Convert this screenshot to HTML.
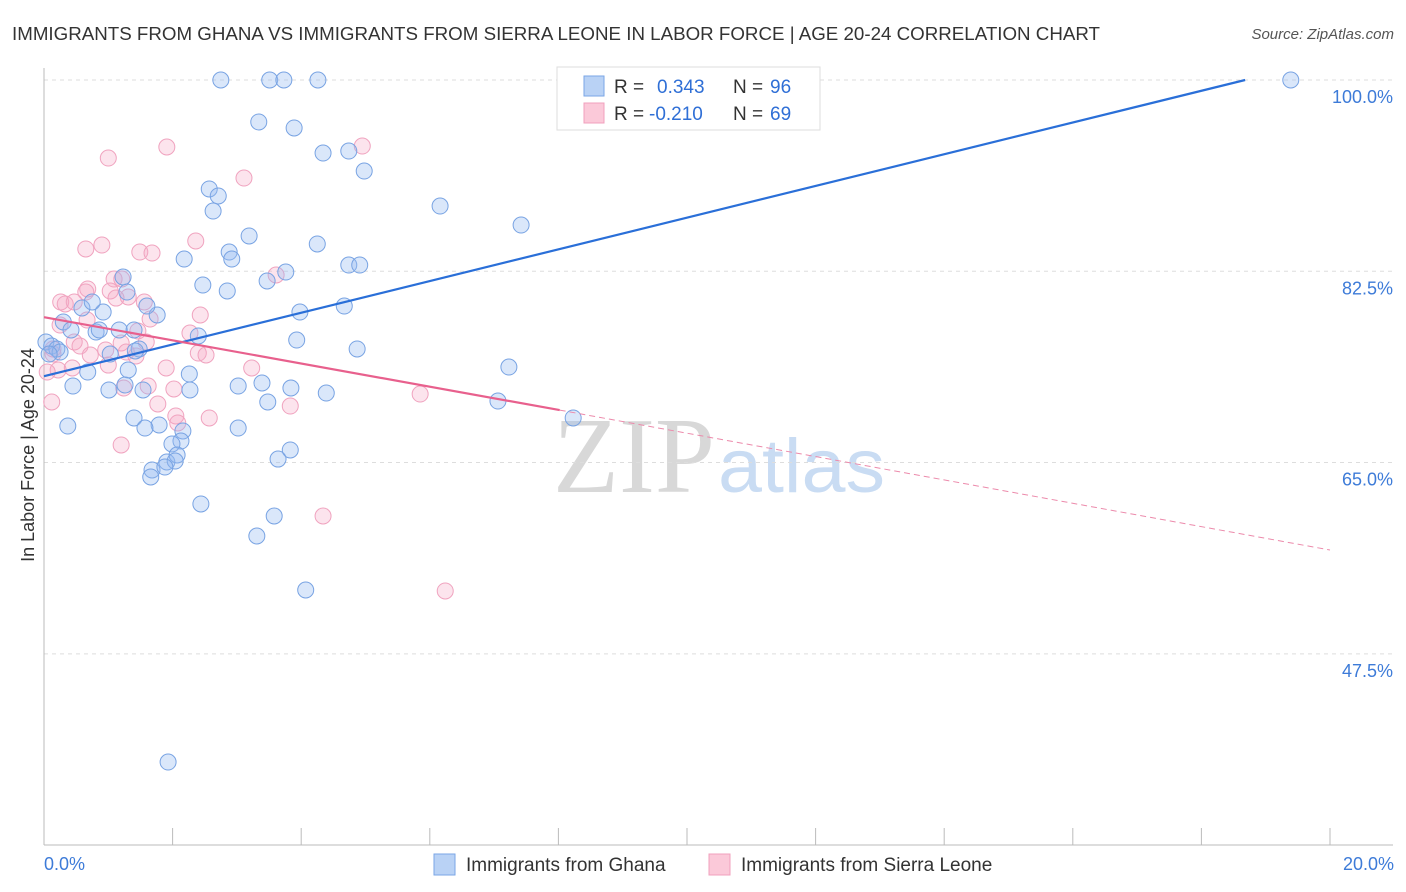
<!DOCTYPE html>
<html><head><meta charset="utf-8">
<style>
body{margin:0;background:#fff;font-family:"Liberation Sans",sans-serif;}
#wrap{position:relative;width:1406px;height:892px;overflow:hidden;}
</style></head>
<body>
<div id="wrap">
<svg id="chart" width="1406" height="892" xmlns="http://www.w3.org/2000/svg">
<text x="12" y="40" font-size="18" textLength="1088" lengthAdjust="spacingAndGlyphs" fill="#333">IMMIGRANTS FROM GHANA VS IMMIGRANTS FROM SIERRA LEONE IN LABOR FORCE | AGE 20-24 CORRELATION CHART</text>
<text x="1394" y="39" font-size="15" fill="#555" font-style="italic" text-anchor="end">Source: ZipAtlas.com</text>
<text x="553" y="492" font-family="Liberation Serif,serif" font-size="108" textLength="162" lengthAdjust="spacingAndGlyphs" fill="#d8d8d8">ZIP</text>
<text x="718" y="492" font-size="76" textLength="167" lengthAdjust="spacingAndGlyphs" fill="#c9dcf3">atlas</text>
<text transform="translate(34,455) rotate(-90)" font-size="18" fill="#333" text-anchor="middle">In Labor Force | Age 20-24</text>
<g id="grid"></g><g id="axes"></g><g id="pts"></g><g id="trends"></g>
<g>
<rect x="557" y="67" width="263" height="63" fill="#fff" stroke="#ddd"/>
<rect x="584" y="76" width="20" height="20" fill="#b9d2f5" stroke="#7aa6e6"/>
<rect x="584" y="103" width="20" height="20" fill="#fbc9d9" stroke="#f0a0bd"/>
<text y="93" font-size="19" fill="#333"><tspan x="614">R =</tspan><tspan x="657" fill="#2f6fd6">0.343</tspan><tspan x="733">N =</tspan><tspan x="770" fill="#2f6fd6">96</tspan></text>
<text y="120" font-size="19" fill="#333"><tspan x="614">R =</tspan><tspan x="649" fill="#2f6fd6">-0.210</tspan><tspan x="733">N =</tspan><tspan x="770" fill="#2f6fd6">69</tspan></text>
</g>
<g>
<rect x="434" y="854" width="21" height="21" fill="#b9d2f5" stroke="#7aa6e6"/>
<text x="466" y="871" font-size="19" fill="#333">Immigrants from Ghana</text>
<rect x="709" y="854" width="21" height="21" fill="#fbc9d9" stroke="#f0a0bd"/>
<text x="741" y="871" font-size="19" fill="#333">Immigrants from Sierra Leone</text>
</g>
</svg>
</div>
<script>
const yTicks=[100,82.5,65,47.5];
const yTickLabels=["100.0%","82.5%","65.0%","47.5%"];
const xTickLabels=["0.0%","20.0%"];
const ghanaX=[2.75,3.51,3.73,4.26,19.39,9.63,3.34,3.89,4.34,4.74,4.98,2.57,2.71,2.63,6.16,7.42,3.19,4.25,2.88,2.92,2.18,4.74,4.91,3.76,3.47,2.47,2.85,1.29,1.23,4.67,3.98,1.76,1.60,0.92,0.30,0.59,0.75,1.40,1.17,0.81,0.86,0.42,2.40,3.93,4.87,0.03,0.12,0.20,0.25,0.08,1.03,1.48,1.42,7.23,0.68,1.31,2.26,0.45,1.01,1.26,1.54,2.27,3.02,3.39,3.84,4.39,3.48,7.06,8.23,0.37,1.40,1.79,1.57,2.16,3.02,2.13,1.99,3.83,3.64,1.91,2.07,2.04,1.68,1.88,1.66,2.44,3.58,3.31,4.07,1.93];
const ghanaY=[100,100,100,100,100,100,96.16,95.61,93.32,93.5,91.67,90.03,89.39,88.01,88.47,86.73,85.73,85.0,84.26,83.62,83.62,83.07,83.07,82.43,81.61,81.24,80.7,80.6,81.98,79.32,78.77,78.5,79.32,78.77,77.86,79.14,79.69,77.13,77.13,76.94,77.13,77.13,76.58,76.21,75.39,76.03,75.66,75.39,75.11,74.93,74.93,75.39,75.21,73.74,73.28,73.47,73.1,72.0,71.64,72.1,71.64,71.64,72.0,72.28,71.82,71.36,70.54,70.63,69.08,68.34,69.08,68.44,68.16,67.89,68.16,66.97,66.7,66.15,65.32,65.05,65.69,65.14,64.32,64.59,63.68,61.21,60.11,58.28,53.34,37.6];
const sierraX=[1.00,1.91,3.11,4.95,0.65,0.90,1.49,1.68,2.36,1.09,0.68,0.65,1.03,1.21,1.31,0.26,0.33,0.47,1.12,1.56,1.65,2.43,0.25,0.67,1.46,2.27,0.47,0.56,0.14,0.14,0.72,0.96,1.20,1.59,1.28,1.43,2.40,2.52,3.61,3.83,3.23,1.90,1.00,0.44,0.22,0.05,0.12,1.24,1.62,2.02,1.77,2.05,2.08,2.57,1.20,4.34,5.85,6.24];
const sierraY=[92.86,93.87,91.03,93.96,84.54,84.9,84.26,84.17,85.27,81.79,80.88,80.6,80.7,81.79,80.15,79.69,79.51,79.69,80.05,79.69,78.13,78.5,77.58,78.04,77.04,76.85,76.03,75.66,75.39,74.93,74.84,75.3,75.94,76.03,75.11,74.75,75.02,74.84,82.16,70.17,73.65,73.65,73.92,73.65,73.47,73.28,70.54,71.82,72.0,71.73,70.36,69.26,68.62,69.08,66.61,60.11,71.27,53.25];
const ghanaTrendX=[0,18.68];
const ghanaTrendY=[72.9,100];
const sierraTrendX=[0,8.02,20];
const sierraTrendY=[78.3,69.8,57.0];

const NS="http://www.w3.org/2000/svg";
const X0=44,X1=1330,YTOP=80,PXPER=10.93;
function sx(v){return X0+(X1-X0)*v/20;}
function sy(v){return YTOP+(100-v)*PXPER;}
function mk(tag,attrs,parent){const e=document.createElementNS(NS,tag);for(const k in attrs)e.setAttribute(k,attrs[k]);parent.appendChild(e);return e;}
const grid=document.getElementById('grid'),axes=document.getElementById('axes'),pts=document.getElementById('pts'),tr=document.getElementById('trends');
yTicks.forEach((t,i)=>{
 const l=mk('line',{x1:X0,x2:1393,y1:sy(t),y2:sy(t),stroke:'#ddd','stroke-dasharray':'4,4'},grid);
 
 
 const tx=mk('text',{x:1393,y:sy(t)+23,'font-size':18,fill:'#3d7bd8','text-anchor':'end'},grid);
 tx.textContent=yTickLabels[i];
 
 
});
const ax=mk('line',{x1:X0,x2:1393,y1:845,y2:845,stroke:'#bbb'},axes);


const ay=mk('line',{x1:X0,x2:X0,y1:68,y2:845,stroke:'#bbb'},axes);


for(let i=0;i<=10;i++){
 const t=mk('line',{x1:sx(i*2),x2:sx(i*2),y1:828,y2:845,stroke:'#bbb'},axes);
 
 
}
const xl0=mk('text',{x:X0,y:870,'font-size':18,fill:'#3d7bd8'},axes);xl0.textContent=xTickLabels[0];


const xl1=mk('text',{x:1394,y:870,'font-size':18,fill:'#3d7bd8','text-anchor':'end'},axes);xl1.textContent=xTickLabels[1];


sierraX.forEach((v,i)=>{
 const c=mk('circle',{cx:sx(v),cy:sy(sierraY[i]),r:8,fill:'rgba(245,165,195,0.3)',stroke:'#f0a3bf','stroke-width':1},pts);
 
 
});
ghanaX.forEach((v,i)=>{
 const c=mk('circle',{cx:sx(v),cy:sy(ghanaY[i]),r:8,fill:'rgba(150,185,240,0.35)',stroke:'#78a3e3','stroke-width':1},pts);
 
 
});
const bl=mk('line',{x1:sx(ghanaTrendX[0]),y1:sy(ghanaTrendY[0]),x2:sx(ghanaTrendX[1]),y2:sy(ghanaTrendY[1]),stroke:'#2a6fd8','stroke-width':2.2},tr);


const pl=mk('line',{x1:sx(sierraTrendX[0]),y1:sy(sierraTrendY[0]),x2:sx(sierraTrendX[1]),y2:sy(sierraTrendY[1]),stroke:'#e8608d','stroke-width':2.2},tr);


const pd=mk('line',{x1:sx(sierraTrendX[1]),y1:sy(sierraTrendY[1]),x2:sx(sierraTrendX[2]),y2:sy(sierraTrendY[2]),stroke:'#ec8aab','stroke-width':1,'stroke-dasharray':'6,4'},tr);


</script>
</body></html>
